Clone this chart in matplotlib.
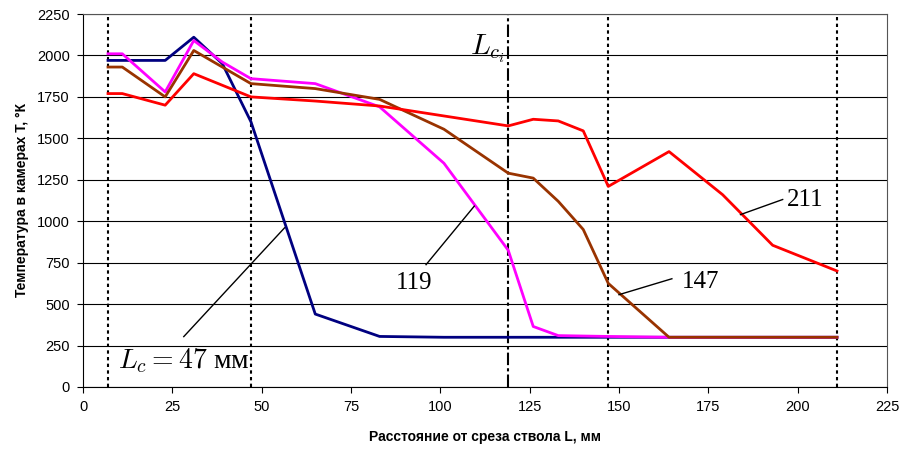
import matplotlib
matplotlib.use("Agg")
import matplotlib.pyplot as plt

plt.rcParams['font.family'] = ['Liberation Sans', 'DejaVu Sans']
plt.rcParams['mathtext.fontset'] = 'cm'

# chamber temperature T (K) vs distance from muzzle L (mm)
x_47 = [7, 11, 23, 31, 39, 47, 65, 83, 101, 119, 147, 164, 211]
t_47 = [1970, 1970, 1970, 2110, 1950, 1600, 440, 305, 300, 300, 300, 300, 300]

x_119 = [7, 11, 23, 31, 39, 47, 65, 83, 101, 119, 126, 133, 147, 164, 211]
t_119 = [2010, 2010, 1780, 2090, 1960, 1860, 1830, 1690, 1350, 825, 365, 310, 305, 300, 300]

x_147 = [7, 11, 23, 31, 47, 65, 83, 101, 119, 126, 133, 140, 147, 164, 211]
t_147 = [1930, 1930, 1750, 2030, 1830, 1800, 1735, 1555, 1290, 1260, 1120, 950, 625, 300, 300]

x_211 = [7, 11, 23, 31, 47, 65, 83, 101, 119, 126, 133, 140, 147, 164, 179, 193, 211]
t_211 = [1770, 1770, 1700, 1890, 1750, 1725, 1695, 1635, 1575, 1615, 1605, 1545, 1210, 1420, 1160, 855, 700]

dotted_at = [7, 47, 147, 211]
dashdot_at = 119

fig = plt.figure(figsize=(9.06, 4.5), dpi=100)
ax = fig.add_axes([83 / 906, 1 - 387 / 450, 804 / 906, 373 / 450])

ax.set_xlim(0, 225)
ax.set_ylim(0, 2250)
ax.set_xticks(range(0, 226, 25))
ax.set_yticks(range(0, 2251, 250))
ax.grid(axis='y', color='black', lw=0.8)
ax.set_axisbelow(True)

for xv in dotted_at:
    ax.axvline(xv, color='black', lw=1.5, ls=(0, (1.6, 1.6)), zorder=1.5)
ax.axvline(dashdot_at, color='black', lw=1.5, ls=(0, (6, 1.5, 1.5, 1.5)), zorder=1.5)

ax.plot(x_47, t_47, color='#000080', lw=2, zorder=3)
ax.plot(x_119, t_119, color='#FF00FF', lw=2, zorder=3)
ax.plot(x_147, t_147, color='#993300', lw=2, zorder=3)
ax.plot(x_211, t_211, color='#FF0000', lw=2, zorder=3)

# leader lines and labels
serif = ['Liberation Serif', 'DejaVu Serif']
ax.plot([28.2, 56.4], [304, 960], color='black', lw=1, zorder=4)
ax.plot([96, 109.5], [738, 1091], color='black', lw=1, zorder=4)
ax.plot([150, 164.8], [557, 653], color='black', lw=1, zorder=4)
ax.plot([184, 195.8], [1040, 1131], color='black', lw=1, zorder=4)

ax.text(92.7, 629, '119', family=serif, fontsize=18, ha='center', va='center')
ax.text(172.9, 632, '147', family=serif, fontsize=18, ha='center', va='center')
ax.text(202, 1125, '211', family=serif, fontsize=18, ha='center', va='center')
ax.text(9.8, 113, '$L_c = 47$ мм', family=serif, fontsize=20, ha='left', va='baseline')
ax.text(108.3, 2008, '$L_{c_i}$', fontsize=21, ha='left', va='baseline')

for side in ['top', 'right']:
    ax.spines[side].set_color('#555555')
ax.tick_params(direction='out', length=4.5, width=0.8, labelsize=10.5, pad=5)

fig.text(22 / 906, 1 - 200 / 450, 'Температура в камерах Т, °К', rotation=90,
         ha='center', va='center', fontsize=10, fontweight='bold')
fig.text(485 / 906, 1 - 437 / 450, 'Расстояние от среза ствола L, мм',
         ha='center', va='center', fontsize=10, fontweight='bold')

fig.savefig('out.png', dpi=100)
